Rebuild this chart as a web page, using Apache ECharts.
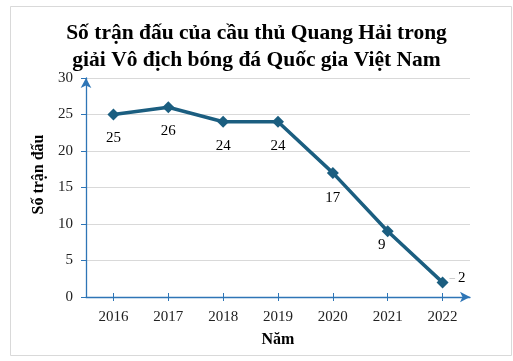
<!DOCTYPE html>
<html><head><meta charset="utf-8">
<script src="https://cdn.jsdelivr.net/npm/echarts@6/dist/echarts.min.js"></script>
<style>html,body{margin:0;padding:0;background:#fff}#c{width:513px;height:361px}</style>
</head><body><div id="c"></div>
<script>
const years = ['2016','2017','2018','2019','2020','2021','2022'];
const matches = [25, 26, 24, 24, 17, 9, 2];
const yMin = 0, yMax = 30, yStep = 5;
const titleText = 'Số trận đấu của cầu thủ Quang Hải trong\ngiải Vô địch bóng đá Quốc gia Việt Nam';
const yName = 'Số trận đấu';
const xName = 'Năm';

const serif = '"Liberation Serif", "Times New Roman", serif';
const axisBlue = '#2e75b6';
const lineColor = '#1b5e80';

// label placement styles per point (not data)
const labelStyles = [
  {position: 'bottom', distance: 10, offset: [0, 0]},
  {position: 'bottom', distance: 10, offset: [0, 0]},
  {position: 'bottom', distance: 11, offset: [0, 0]},
  {position: 'bottom', distance: 11, offset: [0, 0]},
  {position: 'bottom', distance: 12, offset: [0, 0]},
  {position: 'bottom', distance: 0, offset: [-6, 0]},
  {position: 'right', distance: 1, offset: [0, -4], rich: true}
];

const seriesData = matches.map((v, i) => {
  const s = labelStyles[i];
  const lbl = {show: true, position: s.position, distance: s.distance, offset: s.offset};
  if (s.rich) {
    lbl.formatter = '{l|–}{v|{c}}';
    lbl.rich = {
      l: {color: '#a6a6a6', fontSize: 11, fontFamily: serif, padding: [0, 3, 0, 0]},
      v: {color: '#000', fontSize: 15, fontFamily: serif}
    };
  }
  return {value: v, label: lbl};
});

const chart = echarts.init(document.getElementById('c'), null, {renderer: 'canvas'});
chart.setOption({
  animation: false,
  backgroundColor: '#fff',
  title: {
    text: titleText, left: 'center', top: 15,
    textStyle: {fontFamily: serif, fontWeight: 'bold', fontSize: 21.5, lineHeight: 27, color: '#000'}
  },
  graphic: [{
    type: 'rect', left: 8, top: 4, shape: {width: 501, height: 349},
    style: {fill: 'none', stroke: '#d9d9d9', lineWidth: 1}, silent: true, z: -1
  }],
  grid: {left: 86, right: 43, top: 78, bottom: 64},
  xAxis: [{
    type: 'category', data: years, boundaryGap: true,
    name: xName, nameLocation: 'middle', nameGap: 35,
    nameTextStyle: {fontFamily: serif, fontWeight: 'bold', fontSize: 16, color: '#000'},
    axisLine: {show: true, symbol: ['none', 'arrow'], symbolSize: [8, 10], lineStyle: {color: axisBlue, width: 1.3}},
    axisTick: {show: true, alignWithLabel: true, length: 4, lineStyle: {color: axisBlue}},
    axisLabel: {fontFamily: serif, fontSize: 15, color: '#222', margin: 13},
    splitLine: {show: false}
  }, {
    type: 'category', data: years, boundaryGap: true, position: 'bottom',
    axisLine: {show: false},
    axisTick: {show: true, inside: true, alignWithLabel: true, length: 4, lineStyle: {color: axisBlue}},
    axisLabel: {show: false}, splitLine: {show: false}
  }],
  yAxis: {
    type: 'value', min: yMin, max: yMax, interval: yStep,
    name: yName, nameLocation: 'middle', nameGap: 38,
    nameTextStyle: {fontFamily: serif, fontWeight: 'bold', fontSize: 16, color: '#000', padding: [0, 0, 0, 26]},
    axisLine: {show: true, symbol: ['none', 'arrow'], symbolSize: [8, 10], lineStyle: {color: axisBlue, width: 1.3}},
    axisTick: {show: true, length: 5, lineStyle: {color: axisBlue}},
    axisLabel: {fontFamily: serif, fontSize: 15, color: '#222', margin: 13},
    splitLine: {show: true, lineStyle: {color: '#d9d9d9', width: 1}}
  },
  series: [{
    type: 'line', data: seriesData, xAxisIndex: 0,
    symbol: 'diamond', symbolSize: 12,
    lineStyle: {color: lineColor, width: 3.5},
    itemStyle: {color: lineColor},
    label: {fontFamily: serif, fontSize: 15, color: '#000'}
  }]
});
</script></body></html>
